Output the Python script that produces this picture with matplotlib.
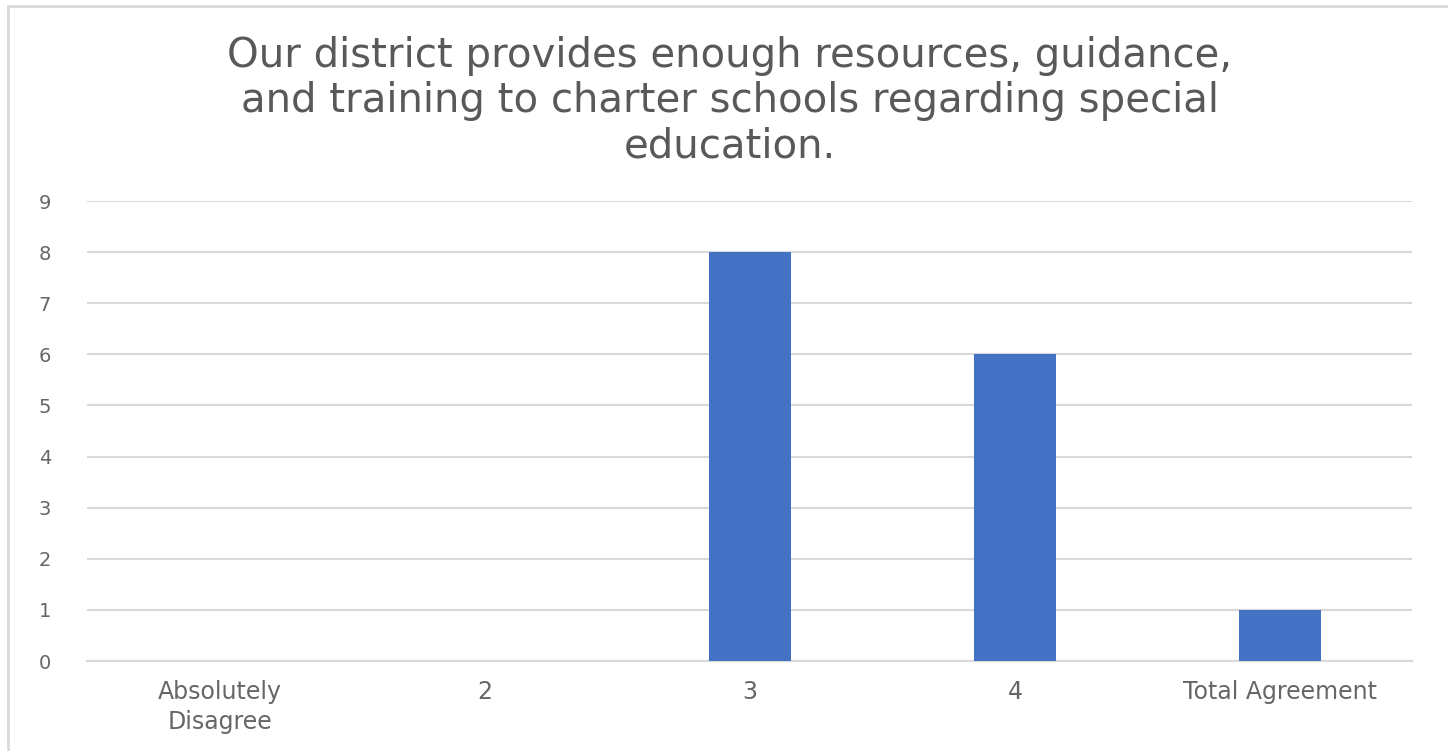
import matplotlib.pyplot as plt
from matplotlib.patches import Rectangle

categories = ["Absolutely\nDisagree", "2", "3", "4", "Total Agreement"]
counts = [0, 0, 8, 6, 1]
yticks = list(range(0, 10))
title = ("Our district provides enough resources, guidance,\n"
         "and training to charter schools regarding special\n"
         "education.")

plt.rcParams['font.family'] = ['DejaVu Sans']

fig = plt.figure(figsize=(14.48, 7.51), dpi=100)
ax = fig.add_axes([0.0604, 0.1198, 0.915, 0.6125])

# chart frame (cut off on right and bottom)
fig.patches.append(Rectangle((8 / 1448, -0.1), 1.2, (751 - 6) / 751 + 0.1,
                             transform=fig.transFigure, fill=False,
                             edgecolor='#d9d9d9', linewidth=2))

x = range(len(categories))
ax.bar(x, counts, width=0.31, color='#4472C4', zorder=3)

ax.set_xlim(-0.5, len(categories) - 0.5)
ax.set_ylim(0, 9)
ax.set_yticks(yticks)
ax.set_xticks(list(x))
ax.set_xticklabels(categories, linespacing=1.3)
ax.yaxis.grid(True, color='#d9d9d9', linewidth=1.5, zorder=0)
ax.set_axisbelow(True)

for s in ['top', 'right', 'left']:
    ax.spines[s].set_visible(False)
ax.spines['bottom'].set_color('#d9d9d9')
ax.spines['bottom'].set_linewidth(1.5)
ax.tick_params(length=0, colors='#666666')
ax.tick_params(axis='x', labelsize=17, pad=14)
ax.tick_params(axis='y', labelsize=14, pad=35)
for lbl in ax.get_yticklabels():
    lbl.set_horizontalalignment('left')

fig.text(0.504, 1 - 101 / 751, title, ha='center', va='center', fontsize=29,
         color='#595959', linespacing=1.17)

fig.savefig('out.png', dpi=100, facecolor='white')
